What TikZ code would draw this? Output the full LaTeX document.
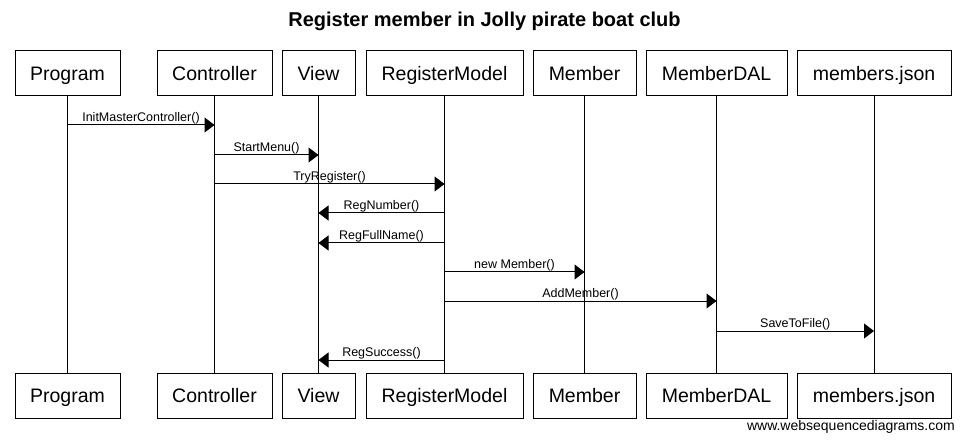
\documentclass[tikz,border=0pt]{standalone}
\usepackage{fontspec}
\setmainfont{Liberation Sans}
\usetikzlibrary{arrows.meta}
\begin{document}
\begin{tikzpicture}[x=1pt, y=-1pt,
            actor/.style = {draw, line width=1pt, minimum height=45pt, inner sep=0pt, text height=18pt, text depth=4pt,
                font=\fontsize{19.5}{23}\selectfont},
            msg/.style = {line width=1pt, -{Triangle[length=10pt, width=15pt]}},
            call/.style = {font=\fontsize{12.5}{15}\selectfont, inner sep=0.5pt, above}]
            \useasboundingbox (0,0) rectangle (965,443);
            \node[font=\bfseries\fontsize{20}{24}\selectfont] (title) at (484.5,21) {Register member in Jolly pirate boat club};
            % participants, top and bottom, with their lifelines
            \foreach \name/\x/\w/\txt in {prog/67.5/105/Program, ctrl/214.5/115/Controller, view/318.5/73/View,
                regm/444.5/157/RegisterModel, memb/584.5/103/Member, mdal/716.5/141/MemberDAL, json/874/154/members.json} {
                \node[actor, minimum width=\w pt] (\name-top) at (\x,73.5) {\txt};
                \node[actor, minimum width=\w pt] (\name-bot) at (\x,395.5) {\txt};
                \draw[line width=1pt] (\name-top) -- (\name-bot);
            }
            % calls
            \foreach \a/\b/\y/\txt [count=\i] in {prog/ctrl/125/InitMasterController(), ctrl/view/155/StartMenu(),
                ctrl/regm/184/TryRegister(), regm/view/213/RegNumber(), regm/view/243/RegFullName(),
                regm/memb/272/new Member(), regm/mdal/301/AddMember(), mdal/json/331/SaveToFile(),
                regm/view/360/RegSuccess()} {
                \coordinate (msg-\i) at (0,\y);
                \draw[msg] (\a-top |- msg-\i) -- (\b-top |- msg-\i) node[call, midway] {\txt};
            }
            \node[font=\fontsize{14}{17}\selectfont, anchor=east, inner sep=0pt] (credit) at (955,427) {www.websequencediagrams.com};
        \end{tikzpicture}
\end{document}
